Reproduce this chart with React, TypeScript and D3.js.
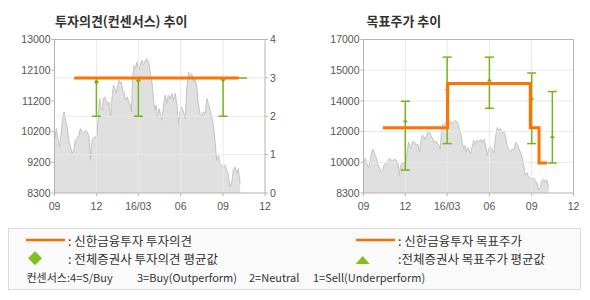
import React from "react";
import * as d3 from "d3";

// ---------- data ----------
const startDate = "2015-09-01";
const xTickDates = ["2015-09-01", "2015-12-01", "2016-03-01", "2016-06-01", "2016-09-01", "2016-12-01"];
const xTickLabels = ["09", "12", "16/03", "06", "09", "12"];

// stock price: day offset from startDate, closing price (KRW)
const priceDay = [
  1, 4, 8, 11, 14, 18, 21, 24, 28, 31, 35, 38, 42, 45, 49, 53, 56, 60, 64, 67, 71, 75, 78, 80, 83, 88,
  92, 95, 98, 101, 104, 106, 109, 112, 115, 118, 122, 125, 128, 131, 134, 137, 140, 143, 145, 148, 151,
  154, 158, 161, 165, 167, 170, 173, 176, 179, 182, 184, 187, 190, 193, 196, 200, 205, 209, 212, 215,
  218, 221, 223, 227, 229, 233, 236, 240, 244, 247, 251, 255, 258, 262, 266, 269, 273, 276, 280, 284,
  287, 291, 294, 298, 302, 305, 309, 312, 316, 320, 323, 327, 331, 334, 338, 341, 345, 349, 352, 356,
  359, 363, 367, 370, 374, 377, 381, 385, 388, 392, 396, 399, 403,
];
const priceValue = [
  9967, 10273, 9915, 9710, 10068, 10629, 10782, 10527, 10273, 9915, 9710, 9507, 9608, 9915, 9967, 10068,
  10273, 10170, 10120, 10221, 10170, 10016, 9302, 9762, 9967, 10016, 10037, 10629, 11192, 10886, 10834,
  11192, 11242, 11140, 10987, 11088, 10629, 11242, 11600, 11497, 11345, 11548, 11753, 11652, 11702,
  11447, 11395, 11140, 11242, 11088, 10987, 10782, 11906, 12213, 12111, 12314, 12111, 12060, 12264,
  12366, 12213, 12314, 12417, 12264, 11855, 11652, 11140, 10834, 10987, 10629, 10886, 10782, 10527,
  10886, 11293, 11039, 11293, 11192, 11345, 11140, 11345, 10987, 10426, 10834, 10936, 10782, 10580,
  11447, 12008, 11855, 11958, 11702, 11805, 11548, 11039, 10733, 10629, 10782, 10733, 11192, 11039,
  10834, 10629, 10374, 9814, 9302, 9455, 9200, 9149, 9097, 9149, 8996, 8894, 8484, 8637, 8996, 9097,
  8894, 9046, 8588,
];

// left chart (투자의견)
const leftPriceDomain = [8300, 13000];
const leftPriceLabels = ["8300", "9200", "10200", "11200", "12100", "13000"];
const opinionTicks = [0, 1, 2, 3, 4];
const opinionDates = ["2015-10-14", "2016-10-05"];
const opinionValues = [3, 3];
const consensusLineDates = ["2015-10-14", "2016-10-23"];
const consensusLineValues = [3, 3];
const consensusBarDates = ["2015-12-01", "2016-03-01", "2016-09-01"];
const consensusMin = [2, 2, 2];
const consensusMax = [3, 3, 3];
const consensusAvg = [2.89, 2.93, 2.95];

// right chart (목표주가)
const rightPriceDomain = [8300, 17000];
const rightPriceLabels = ["8300", "10000", "12000", "14000", "15000", "17000"];
const targetDates = ["2015-10-13", "2016-03-02", "2016-08-29", "2016-09-17", "2016-10-05"];
const targetValues = [12000, 14500, 12000, 10000, 10000];
const targetBarDates = ["2015-12-01", "2016-03-01", "2016-06-01", "2016-09-01", "2016-10-16"];
const targetMin = [9600, 11100, 13100, 11100, 10000];
const targetMax = [13500, 16000, 16000, 15100, 14050];
const targetAvg = [12400, 14200, 14700, 13650, 11500];

// ---------- style ----------
const ORANGE = "#ff7300";
const GREEN = "#76b41a";
const LEG_GREEN = "#80c21a";
const GRID = "#e9e9e9";
const FRAME = "#b4b4b4";
const AXIS_TXT = "#555";
const KFONT = "'Noto Sans CJK KR', 'Noto Sans', sans-serif";
const NFONT = "'Liberation Sans', Arial, sans-serif";

const parse = d3.timeParse("%Y-%m-%d");
const start = parse(startDate) as Date;
const priceData = priceDay.map((d, i) => ({ date: d3.timeDay.offset(start, d), v: priceValue[i] }));
const xTicks = xTickDates.map((d) => parse(d) as Date);

function PriceBackground({ y1, x, y }: { y1: number; x: any; y: any }) {
  const area = d3
    .area<any>()
    .x((d) => x(d.date))
    .y0(y1)
    .y1((d) => y(d.v));
  const line = d3
    .line<any>()
    .x((d) => x(d.date))
    .y((d) => y(d.v));
  return (
    <g>
      <path d={area(priceData) || ""} fill="#e0e0e0" />
      <path d={line(priceData) || ""} fill="none" stroke="#c3c3c3" strokeWidth={1} />
    </g>
  );
}

function XAxis({ x, y1 }: { x: any; y1: number }) {
  return (
    <g>
      {xTicks.map((t, i) => (
        <g key={i}>
          <line x1={x(t)} x2={x(t)} y1={y1} y2={y1 + 3} stroke={FRAME} />
          <text x={x(t)} y={209.5} textAnchor="middle" fontFamily={NFONT} fontSize={10.5} fill={AXIS_TXT}>
            {xTickLabels[i]}
          </text>
        </g>
      ))}
    </g>
  );
}

function LeftChart() {
  const x0 = 54.5, x1 = 265, y0 = 39.5, y1 = 193;
  const x = d3.scaleTime().domain([xTicks[0], xTicks[xTicks.length - 1]]).range([x0, x1]);
  const yP = d3.scaleLinear().domain(leftPriceDomain).range([y1, y0]);
  const yO = d3.scaleLinear().domain([0, 4]).range([y1, y0]);
  const labelVals = d3.range(leftPriceLabels.length).map(
    (i) => leftPriceDomain[0] + (i * (leftPriceDomain[1] - leftPriceDomain[0])) / (leftPriceLabels.length - 1)
  );
  const opLine = d3
    .line<number>()
    .x((_, i) => x(parse(opinionDates[i]) as Date))
    .y((d) => yO(d));
  const csLine = d3
    .line<number>()
    .x((_, i) => x(parse(consensusLineDates[i]) as Date))
    .y((d) => yO(d));
  return (
    <g>
      <text x={55} y={25.5} fontFamily={KFONT} fontSize={13} fontWeight="bold" fill="#333">
        투자의견(컨센서스) 추이
      </text>
      <PriceBackground y1={y1} x={x} y={yP} />
      {opinionTicks.slice(1, -1).map((t) => (
        <line key={t} x1={x0} x2={x1} y1={yO(t)} y2={yO(t)} stroke={GRID} />
      ))}
      {xTicks.slice(1, -1).map((t, i) => (
        <line key={i} x1={x(t)} x2={x(t)} y1={y0} y2={y1} stroke={GRID} />
      ))}
      <rect x={x0} y={y0} width={x1 - x0} height={y1 - y0} fill="none" stroke={FRAME} />
      {labelVals.map((v, i) => (
        <g key={i}>
          <line x1={x0 - 3} x2={x0} y1={yP(v)} y2={yP(v)} stroke={FRAME} />
          <text x={x0 - 4} y={yP(v)} dy="0.35em" textAnchor="end" fontFamily={NFONT} fontSize={10.5} fill={AXIS_TXT}>
            {leftPriceLabels[i]}
          </text>
        </g>
      ))}
      {opinionTicks.map((t) => (
        <g key={t}>
          <line x1={x1} x2={x1 + 3} y1={yO(t)} y2={yO(t)} stroke={FRAME} />
          <text x={x1 + 5} y={yO(t)} dy="0.35em" fontFamily={NFONT} fontSize={10.5} fill={AXIS_TXT}>
            {t}
          </text>
        </g>
      ))}
      <XAxis x={x} y1={y1} />
      <path d={csLine(consensusLineValues) || ""} stroke={GREEN} strokeWidth={1.5} fill="none" />
      {consensusBarDates.map((d, i) => {
        const cx = x(parse(d) as Date);
        const a = yO(consensusAvg[i]);
        return (
          <g key={i}>
            <line x1={cx} x2={cx} y1={yO(consensusMax[i])} y2={yO(consensusMin[i])} stroke={GREEN} strokeWidth={1.5} />
            <line x1={cx - 4.5} x2={cx + 4.5} y1={yO(consensusMin[i])} y2={yO(consensusMin[i])} stroke={GREEN} strokeWidth={1.5} />
            <line x1={cx - 4.5} x2={cx + 4.5} y1={yO(consensusMax[i])} y2={yO(consensusMax[i])} stroke={GREEN} strokeWidth={1.5} />
            <path d={`M${cx},${a - 2.5}L${cx + 2.5},${a}L${cx},${a + 2.5}L${cx - 2.5},${a}Z`} fill={GREEN} />
          </g>
        );
      })}
      <path d={opLine(opinionValues) || ""} stroke={ORANGE} strokeWidth={3} fill="none" />
    </g>
  );
}

function RightChart() {
  const x0 = 363.5, x1 = 573.5, y0 = 39.5, y1 = 193;
  const x = d3.scaleTime().domain([xTicks[0], xTicks[xTicks.length - 1]]).range([x0, x1]);
  const yP = d3.scaleLinear().domain(rightPriceDomain).range([y1, y0]);
  const labelVals = d3.range(rightPriceLabels.length).map(
    (i) => rightPriceDomain[0] + (i * (rightPriceDomain[1] - rightPriceDomain[0])) / (rightPriceLabels.length - 1)
  );
  const step = d3
    .line<number>()
    .x((_, i) => x(parse(targetDates[i]) as Date))
    .y((d) => yP(d))
    .curve(d3.curveStepAfter);
  return (
    <g>
      <text x={366.5} y={25.5} fontFamily={KFONT} fontSize={13} fontWeight="bold" fill="#333">
        목표주가 추이
      </text>
      <PriceBackground y1={y1} x={x} y={yP} />
      {labelVals.slice(1, -1).map((v, i) => (
        <line key={i} x1={x0} x2={x1} y1={yP(v)} y2={yP(v)} stroke={GRID} />
      ))}
      {xTicks.slice(1, -1).map((t, i) => (
        <line key={i} x1={x(t)} x2={x(t)} y1={y0} y2={y1} stroke={GRID} />
      ))}
      <rect x={x0} y={y0} width={x1 - x0} height={y1 - y0} fill="none" stroke={FRAME} />
      {labelVals.map((v, i) => (
        <g key={i}>
          <line x1={x0 - 3} x2={x0} y1={yP(v)} y2={yP(v)} stroke={FRAME} />
          <text x={x0 - 4} y={yP(v)} dy="0.35em" textAnchor="end" fontFamily={NFONT} fontSize={10.5} fill={AXIS_TXT}>
            {rightPriceLabels[i]}
          </text>
        </g>
      ))}
      <XAxis x={x} y1={y1} />
      {targetBarDates.map((d, i) => {
        const cx = x(parse(d) as Date);
        const a = yP(targetAvg[i]);
        const t = yP(targetMax[i]);
        const b = yP(targetMin[i]);
        return (
          <g key={i}>
            <line x1={cx} x2={cx} y1={t} y2={b} stroke={GREEN} strokeWidth={1.5} />
            <line x1={cx - 4.5} x2={cx + 4.5} y1={t} y2={t} stroke={GREEN} strokeWidth={1.5} />
            <line x1={cx - 4.5} x2={cx + 4.5} y1={b} y2={b} stroke={GREEN} strokeWidth={1.5} />
            <path d={`M${cx - 2.5},${a + 1.5}L${cx + 2.5},${a + 1.5}L${cx},${a - 2}Z`} fill={GREEN} />
          </g>
        );
      })}
      <path d={step(targetValues) || ""} stroke={ORANGE} strokeWidth={3} fill="none" />
    </g>
  );
}

function Legend() {
  const t = { fontFamily: KFONT, fontSize: 12.5, fill: "#333", dominantBaseline: "central" as const };
  const s = { fontFamily: KFONT, fontSize: 11, fill: "#333", dominantBaseline: "central" as const };
  return (
    <g>
      <rect x={8.5} y={228.5} width={572} height={61} fill="#fafafa" stroke="#dcdcdc" />
      <line x1={26} x2={65} y1={240} y2={240} stroke="#f07000" strokeWidth={2.5} />
      <text x={68} y={240} {...t}>: 신한금융투자 투자의견</text>
      <path d="M35,251.3L42,258.3L35,265.3L28,258.3Z" fill={LEG_GREEN} />
      <text x={68} y={258.5} {...t}>: 전체증권사 투자의견 평균값</text>
      <line x1={356} x2={395} y1={240} y2={240} stroke="#f07000" strokeWidth={2.5} />
      <text x={398} y={240} {...t}>: 신한금융투자 목표주가</text>
      <path d="M355.7,264L369.7,264L362.7,256Z" fill={LEG_GREEN} />
      <text x={398} y={258.5} {...t}>:전체증권사 목표주가 평균값</text>
      <text x={26.5} y={276.5} {...s}>컨센서스:4=S/Buy</text>
      <text x={137} y={276.5} {...s}>3=Buy(Outperform)</text>
      <text x={249} y={276.5} {...s}>2=Neutral</text>
      <text x={313} y={276.5} {...s}>1=Sell(Underperform)</text>
    </g>
  );
}

export default function App() {
  return (
    <svg width={590} height={300} style={{ position: "absolute", left: 0, top: 0, background: "#fff" }}>
      <rect x={0} y={0} width={590} height={300} fill="#fff" />
      <LeftChart />
      <RightChart />
      <Legend />
    </svg>
  );
}
